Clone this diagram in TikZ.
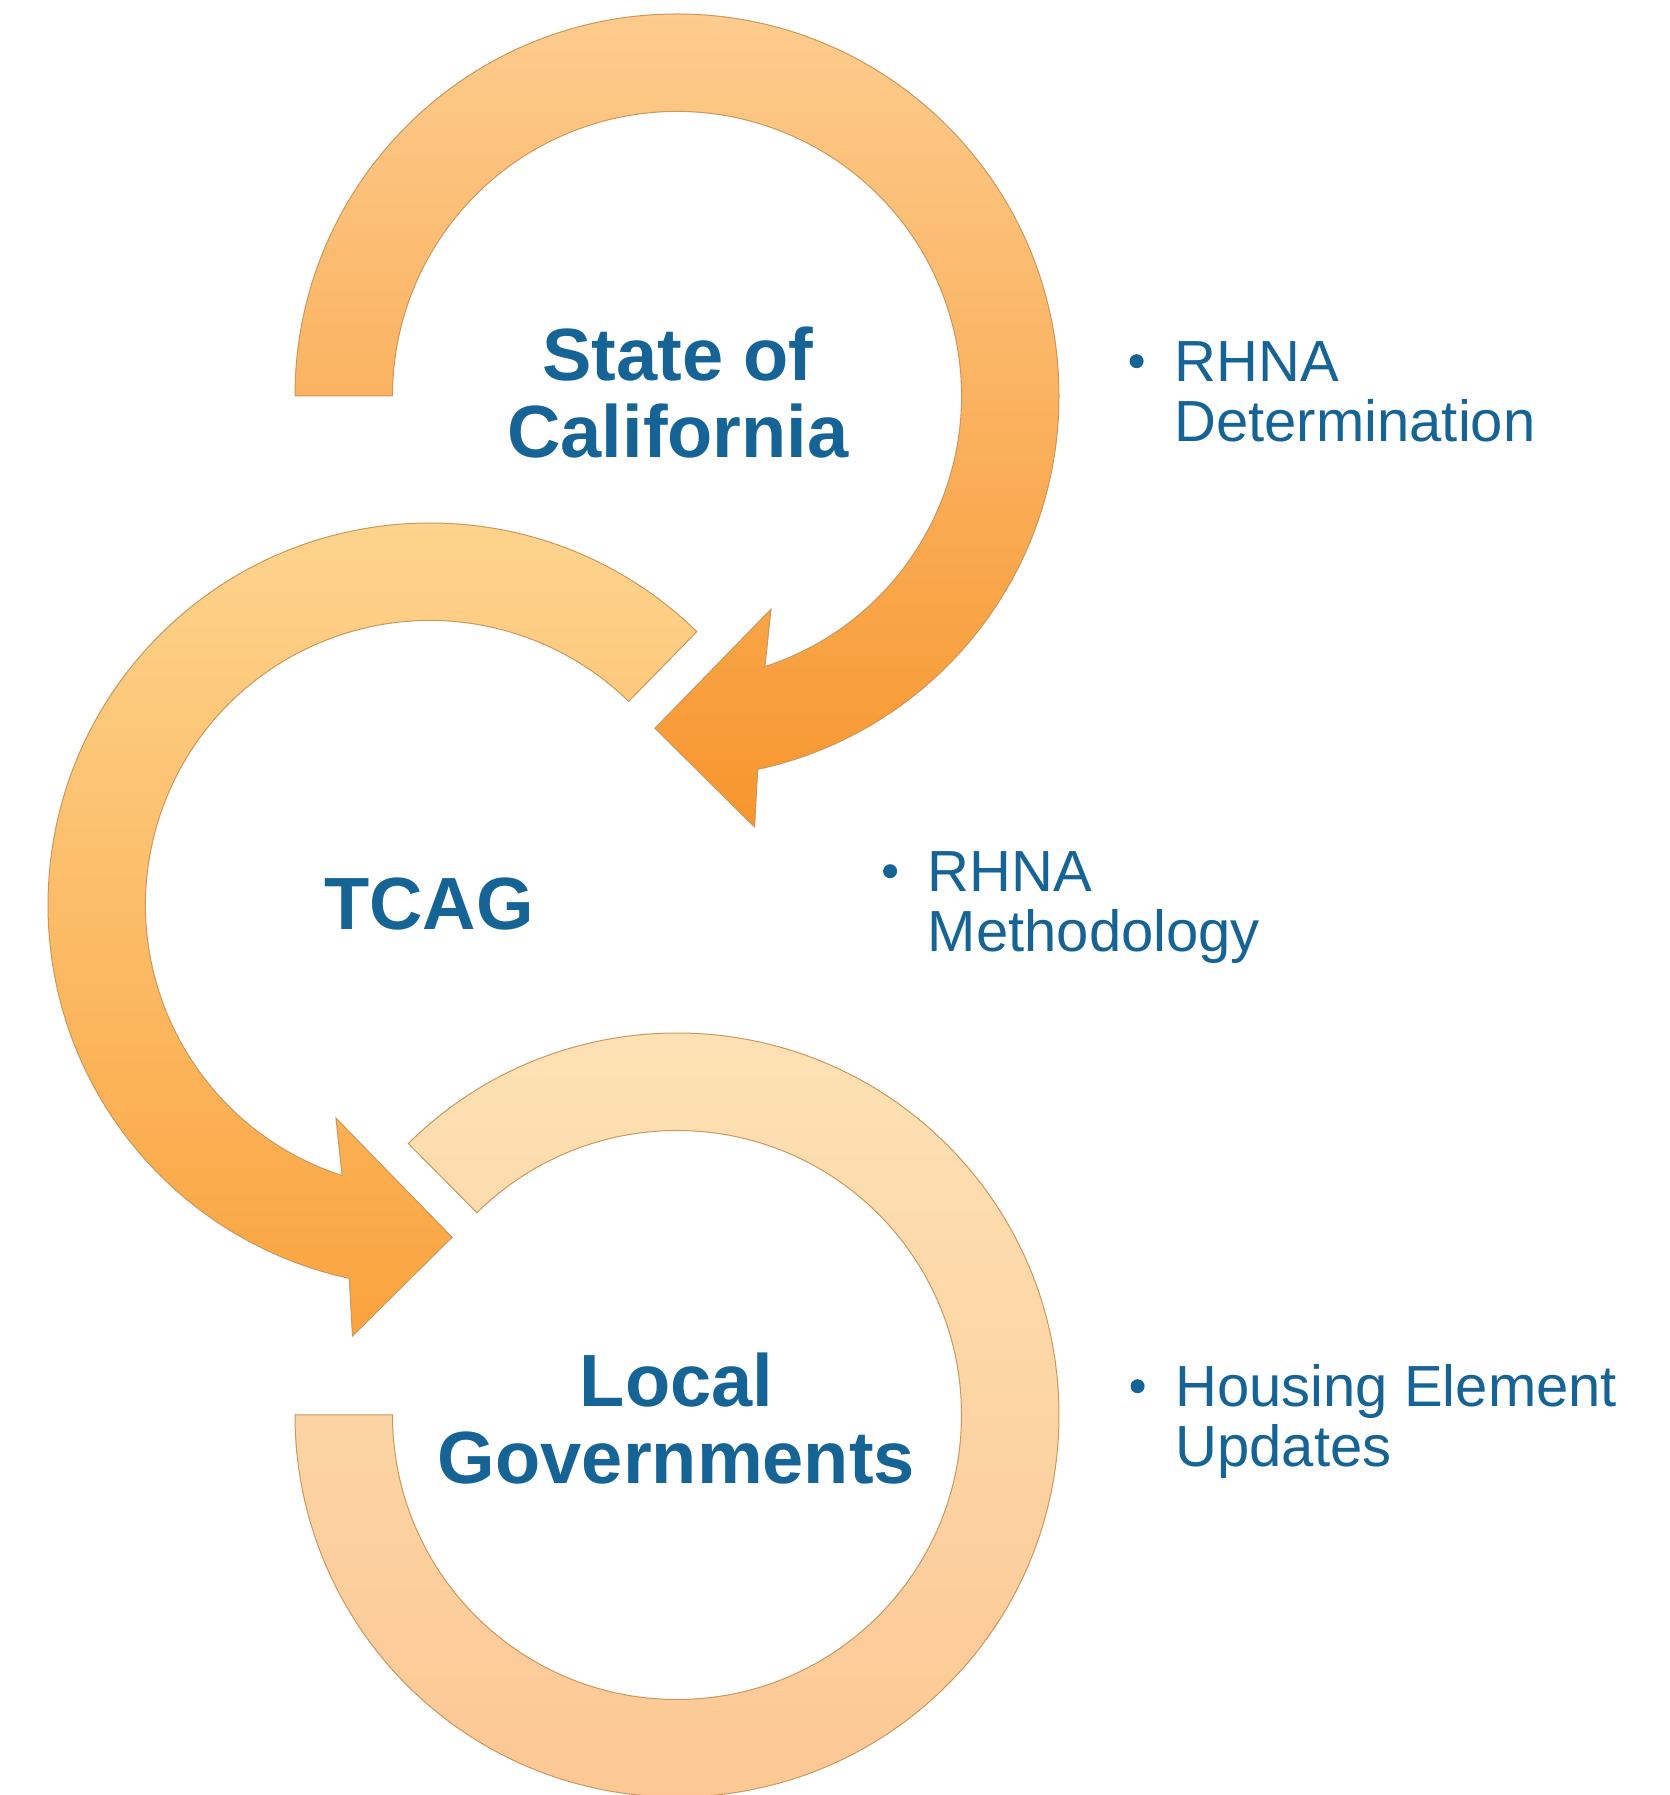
\documentclass[tikz,border=0pt]{standalone}
\usepackage{fontspec}
\setmainfont{Liberation Sans}
\usetikzlibrary{positioning}

\definecolor{tcagblue}{RGB}{22,99,150}
\definecolor{ringedge}{RGB}{205,150,92}

\begin{document}
\begin{tikzpicture}[x=0.5pt, y=0.5pt,
    ring/.style={draw=ringedge, line width=0.5pt},
    title/.style={text=tcagblue, inner sep=0pt, align=center,
      font=\bfseries\fontsize{37}{38.5}\selectfont},
    item/.style={text=tcagblue, inner sep=0pt, align=left, anchor=base west,
      font=\fontsize{29}{30}\selectfont},
    dot/.style={circle, fill=tcagblue, inner sep=0pt, minimum size=7pt}]
      \useasboundingbox (0,0) rectangle (1670,1795);

      % Draw the top ring with its arrow head (clockwise)
      \begin{scope}[shift={(677,1399)}]
        \path[ring, top color={rgb,255:red,253;green,204;blue,142},
          bottom color={rgb,255:red,247;green,150;blue,45}]
          (180:382) arc[start angle=180, end angle=-77.8, radius=382]
          -- (-79.8:438) -- (-93.8:333) -- (-66.2:233) -- (-72:284.5)
          arc[start angle=-72, end angle=180, radius=284.5] -- cycle;
      \end{scope}

      % Draw the middle ring with its arrow head (counter clockwise)
      \begin{scope}[shift={(430,890)}]
        \path[ring, top color={rgb,255:red,253;green,214;blue,145},
          bottom color={rgb,255:red,250;green,163;blue,62}]
          (45.7:382) arc[start angle=45.7, end angle=257.8, radius=382]
          -- (259.8:438) -- (273.8:333) -- (246.2:233) -- (252:284.5)
          arc[start angle=252, end angle=45.7, radius=284.5] -- cycle;
      \end{scope}

      % Draw the bottom ring, no arrow head
      \begin{scope}[shift={(677,380)}]
        \path[ring, top color={rgb,255:red,253;green,227;blue,182},
          bottom color={rgb,255:red,252;green,198;blue,146}]
          (134.7:382) arc[start angle=134.7, end angle=-180, radius=382]
          -- (180:284.5) arc[start angle=-180, end angle=134.7, radius=284.5]
          -- cycle;
      \end{scope}

      % Add the names inside the rings
      \node[title] (state) at (678,1402.5) {State of\\California};
      \node[title] (tcag) at (429,891.3) {TCAG};
      \node[title] (local) at (676.5,376) {Local\\Governments};

      % Add the bullet items (base is the last line)
      \node[item] (det) at (1174,1353.3) {RHNA\\Determination};
      \node[item] (meth) at (927.5,843.3) {RHNA\\Methodology};
      \node[item] (hous) at (1175,328.3) {Housing Element\\Updates};
      \foreach \t in {det, meth, hous}
        \node[dot, left=15pt of \t.base west, yshift=40.25pt] (\t-dot) {};
    \end{tikzpicture}
\end{document}
